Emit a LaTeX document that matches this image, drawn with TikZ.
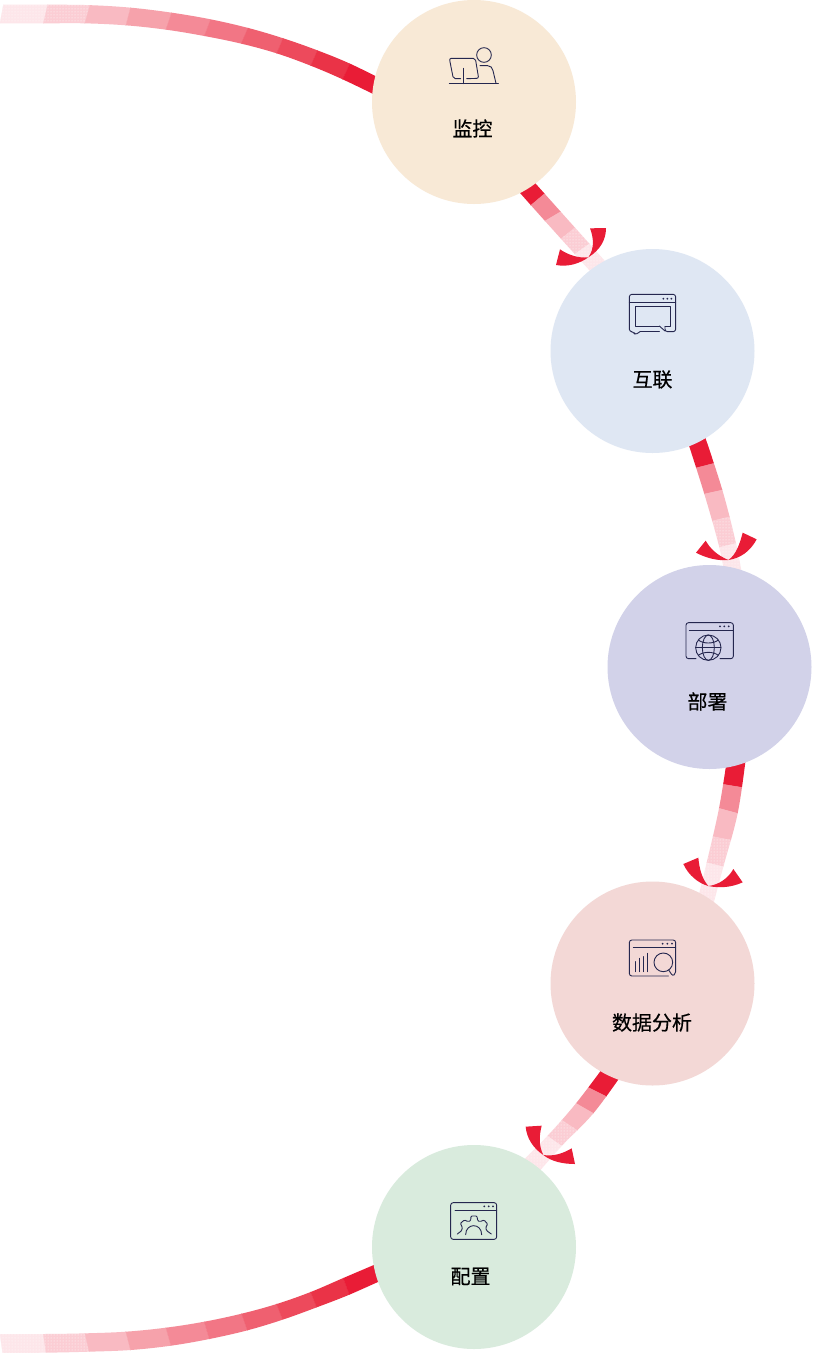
\documentclass[tikz,border=0pt]{standalone}
\usepackage{fontspec}
\usetikzlibrary{patterns,calc}
\newfontfamily\cjk[FakeBold=0.4]{Noto Sans CJK SC}
\definecolor{c0}{HTML}{E91C36}\definecolor{c1}{HTML}{EA3347}\definecolor{c2}{HTML}{ED4A5C}
\definecolor{c3}{HTML}{EF6070}\definecolor{c4}{HTML}{F27685}\definecolor{c5}{HTML}{F48A97}
\definecolor{c6}{HTML}{F6A2AB}\definecolor{c7}{HTML}{F9BAC2}\definecolor{c8}{HTML}{FBCDD4}
\definecolor{c9}{HTML}{FDE6EA}\definecolor{ink}{HTML}{25274F}
\definecolor{sand}{HTML}{F8E9D6}\definecolor{sky}{HTML}{DFE7F3}\definecolor{lav}{HTML}{D2D2E9}
\definecolor{rose}{HTML}{F3D8D6}\definecolor{mint}{HTML}{D9EBDD}
\tikzset{
  disc/.style={circle,minimum size=204pt,inner sep=0pt,fill=#1},
  lbl/.style={font=\cjk\fontsize{20}{20}\selectfont,text=black,inner sep=0pt},
  zm/.style 2 args={shift={(#1pt,-#2pt)},x=.33333pt,y=-.33333pt},
  flat/.style={fill=#1,draw=#1,line width=.25pt},
  seg0/.style={flat=c0},seg1/.style={flat=c1},seg2/.style={flat=c2},seg3/.style={flat=c3},
  seg4/.style={flat=c4},seg5/.style={flat=c5},seg6/.style={flat=c6},seg7/.style={flat=c7},
  seg8/.style={preaction={flat=c8},pattern=dots,pattern color=white},
  seg9/.style={preaction={flat=c9},pattern=dots,pattern color=white},
  wing/.style={fill=c0},
  icon/.style={draw=ink,line width=.9pt,line cap=round,line join=round},
  icondot/.style={fill=ink},
}
% the smooth outline of a band: one edge forwards, the other backwards
\newcommand{\bandclip}[2]{\clip plot[smooth,tension=.6] coordinates {#1} -- plot[smooth,tension=.6] coordinates {#2} -- cycle;}
% one band piece: style, then the two corners of its start and of its end, overshooting the outline
\newcommand{\piece}[5]{\path[#1] ($(#2)!-.25!(#3)$) -- ($(#2)!1.25!(#3)$) -- ($(#4)!1.25!(#5)$) -- ($(#4)!-.25!(#5)$) -- cycle;}
\newcommand{\threedots}[3]{\foreach \k in {0,1,2}{\fill[icondot] ({#1+\k*#3},#2) circle [radius=3];}}
\begin{document}
\begin{tikzpicture}[x=1pt,y=-1pt]
\useasboundingbox (0,0) rectangle (812,1353);
\fill[white] (0,0) rectangle (812,1353);
% top long band
\begin{scope}[zm={0}{0}]
\bandclip{(-20,14) (143,14) (270,15.5) (392,23) (515,38) (632,58) (745,84) (850,115) (952,151) (1050,191) (1160,245)}
         {(1140,292) (1028,238) (932,197) (830,160) (724,131) (613,108) (498,89) (378,76) (255,70) (130,70) (-20,70)}
\piece{seg9}{10,15}{0,70}{143,15}{130,70}
\piece{seg8}{143,15}{130,70}{270,15}{255,68}
\piece{seg7}{270,15}{255,68}{392,22}{378,75}
\piece{seg6}{392,22}{378,75}{515,38}{498,88}
\piece{seg5}{515,38}{498,88}{632,58}{613,108}
\piece{seg4}{632,58}{613,108}{745,82}{724,130}
\piece{seg3}{745,82}{724,130}{850,113}{830,160}
\piece{seg2}{850,113}{830,160}{952,152}{932,198}
\piece{seg1}{952,152}{932,198}{1050,190}{1028,238}
\piece{seg0}{1050,190}{1028,238}{1170,250}{1150,300}
\end{scope}
% bottom long band
\begin{scope}[zm={0}{1243}]
\bandclip{(-20,273) (130,273) (255,271) (378,266) (498,254) (613,236) (725,212) (830,183) (932,147) (1030,105) (1140,58)}
         {(1160,105) (1048,155) (950,193) (848,230) (742,262) (628,288) (513,308) (392,321) (268,326) (138,329) (-20,330)}
\piece{seg9}{0,273}{8,330}{130,273}{138,328}
\piece{seg8}{130,273}{138,328}{255,272}{268,328}
\piece{seg7}{255,272}{268,328}{378,268}{392,322}
\piece{seg6}{378,268}{392,322}{498,255}{513,308}
\piece{seg5}{498,255}{513,308}{613,237}{628,288}
\piece{seg4}{613,237}{628,288}{725,212}{742,262}
\piece{seg3}{725,212}{742,262}{830,183}{848,230}
\piece{seg2}{830,183}{848,230}{932,147}{950,193}
\piece{seg1}{932,147}{950,193}{1030,105}{1048,155}
\piece{seg0}{1030,105}{1048,155}{1160,45}{1175,100}
\end{scope}
% arrow 1
\begin{scope}[zm={500}{170}]
\bandclip{(30,35) (135,153) (290,325)}
         {(330,290) (182,125) (75,5)}
\piece{seg0}{30,35}{75,5}{90,108}{135,70}
\piece{seg5}{90,108}{135,70}{135,153}{182,125}
\piece{seg7}{135,153}{182,125}{185,205}{228,170}
\piece{seg8}{185,205}{228,170}{228,250}{270,220}
\piece{seg9}{228,250}{270,220}{290,325}{330,290}
\end{scope}
% arrow 2
\begin{scope}[zm={660}{430}]
\bandclip{(80,25) (133,192) (178,352) (195,445)}
         {(248,445) (228,340) (187,180) (130,5)}
\piece{seg0}{80,25}{130,5}{115,112}{162,100}
\piece{seg5}{115,112}{162,100}{133,192}{187,180}
\piece{seg7}{133,192}{187,180}{160,272}{210,260}
\piece{seg8}{160,272}{210,260}{178,352}{228,340}
\piece{seg9}{178,352}{228,340}{195,445}{248,445}
\end{scope}
% arrow 3
\begin{scope}[zm={670}{750}]
\bandclip{(172,20) (147,175) (110,338) (80,460)}
         {(128,470) (160,350) (203,190) (228,20)}
\piece{seg0}{172,20}{228,20}{160,103}{215,112}
\piece{seg5}{160,103}{215,112}{147,175}{203,190}
\piece{seg7}{147,175}{203,190}{130,260}{182,270}
\piece{seg8}{130,260}{182,270}{110,338}{160,350}
\piece{seg9}{110,338}{160,350}{80,460}{128,470}
\end{scope}
% arrow 4
\begin{scope}[zm={510}{1060}]
\bandclip{(285,15) (198,130) (112,228) (25,315)}
         {(70,355) (155,258) (250,160) (338,40)}
\piece{seg0}{285,15}{338,40}{240,85}{290,110}
\piece{seg5}{240,85}{290,110}{198,130}{250,160}
\piece{seg7}{198,130}{250,160}{155,180}{200,210}
\piece{seg8}{155,180}{200,210}{112,228}{155,258}
\piece{seg9}{112,228}{155,258}{25,315}{70,355}
\end{scope}
% circles
\node[disc=sand] (monitor) at (474,102) {};
\node[disc=sky] (connect) at (652.5,351) {};
\node[disc=lav] (deploy) at (709.5,667) {};
\node[disc=rose] (analysis) at (652.5,983.5) {};
\node[disc=mint] (config) at (474,1247) {};
% labels
\node[lbl] (monitorlabel) at (472.5,128.5) {监控};
\node[lbl] (connectlabel) at (652.5,379.5) {互联};
\node[lbl] (deploylabel) at (707.5,701.5) {部署};
\node[lbl] (analysislabel) at (652,1022.5) {数据分析};
\node[lbl] (configlabel) at (470.5,1276.5) {配置};
% arrow heads
\begin{scope}[zm={500}{170}]
\path[wing] (265,262) .. controls (285,235) and (280,200) .. (270,175) -- (318,174) .. controls (318,210) and (300,240) .. (265,262);
\path[wing] (265,262) .. controls (235,265) and (205,255) .. (180,238) -- (168,285) .. controls (205,292) and (240,280) .. (265,262);
\end{scope}
\begin{scope}[zm={660}{430}]
\path[wing] (205,390) .. controls (170,375) and (150,355) .. (137,332) -- (108,368) .. controls (140,385) and (175,393) .. (205,390);
\path[wing] (205,390) .. controls (228,375) and (240,340) .. (248,308) -- (290,328) .. controls (270,365) and (240,385) .. (205,390);
\end{scope}
\begin{scope}[zm={670}{750}]
\path[wing] (115,408) .. controls (95,385) and (88,355) .. (85,323) -- (40,342) .. controls (55,375) and (85,400) .. (115,408);
\path[wing] (115,408) .. controls (145,405) and (175,385) .. (190,357) -- (218,397) .. controls (185,412) and (150,415) .. (115,408);
\end{scope}
\begin{scope}[zm={510}{1060}]
\path[wing] (100,285) .. controls (85,255) and (88,225) .. (95,197) -- (47,200) .. controls (50,235) and (70,265) .. (100,285);
\path[wing] (100,285) .. controls (130,290) and (160,280) .. (185,265) -- (195,312) .. controls (160,312) and (125,305) .. (100,285);
\end{scope}
% icon: monitor
\begin{scope}[zm={420}{30}]
\draw[icon] (192,75) circle [radius=22];
\draw[icon] (180,107) -- (203,107) .. controls (212,107) and (217,113) .. (219,122) -- (228,160);
\draw[icon] (88,161) -- (235,161);
\draw[icon] (130,115) -- (130,161);
\draw[icon,rounded corners=2pt] (122,146) -- (100,146) -- (88,85) -- (166,85) -- (176,145) -- (140,146);
\end{scope}
% icon: connect
\begin{scope}[zm={600}{280}]
\draw[icon,rounded corners=2.5pt] (120,155) -- (105,165) -- (101,155) -- (88,155) -- (88,43) -- (227,43) -- (227,155) -- (195,155) -- (195,140);
\draw[icon] (120,155) -- (178,155);
\draw[icon] (88,67) -- (227,67);
\threedots{190}{56}{12}
\draw[icon] (178,138) -- (105,138) -- (105,80) -- (212,80) -- (212,138) -- (195,138);
\draw[icon] (178,138) -- (195,153);
\end{scope}
% icon: deploy
\begin{scope}[zm={670}{610}]
\draw[icon,rounded corners=2.5pt] (78,146) -- (48,146) -- (48,38) -- (190,38) -- (190,146) -- (150,146);
\draw[icon] (58,60) -- (190,60);
\threedots{150}{49}{13}
\draw[icon] (115,113) circle [radius=38];
\draw[icon] (115,113) ellipse [x radius=18,y radius=38];
\draw[icon] (77,113) -- (153,113);
\draw[icon] (85,90) .. controls (100,102) and (130,102) .. (145,90);
\draw[icon] (85,136) .. controls (100,124) and (130,124) .. (145,136);
\end{scope}
% icon: analysis
\begin{scope}[zm={610}{925}]
\draw[icon,rounded corners=2.5pt] (175,153) -- (58,153) -- (58,45) -- (197,45) -- (197,132);
\draw[icon,rounded corners=2pt] (197,132) -- (197,146) -- (188,153) -- (176,135);
\draw[icon] (70,67) -- (197,67);
\threedots{158}{56}{14}
\foreach \bx/\bt in {77/110,88/100,100/95,113/85}{\draw[icon] (\bx,\bt) -- (\bx,140);}
\draw[icon] (160,112) circle [radius=28];
\end{scope}
% icon: config
\begin{scope}[zm={430}{1190}]
\draw[icon,rounded corners=2.5pt] (62,38) -- (200,38) -- (200,148) -- (62,148) -- cycle;
\draw[icon] (75,60) -- (200,60);
\threedots{163}{49}{13}
\draw[icon,rounded corners=1pt] (82,132) -- (95,122) -- (97,112) -- (91,100) -- (103,90) -- (115,95) -- (122,92) -- (123,78) -- (141,78) -- (143,92) -- (150,95) -- (162,90) -- (173,102) -- (167,113) -- (170,122) -- (184,132);
\draw[icon] (107,134) .. controls (107,98) and (155,98) .. (155,134);
\end{scope}
\end{tikzpicture}
\end{document}
